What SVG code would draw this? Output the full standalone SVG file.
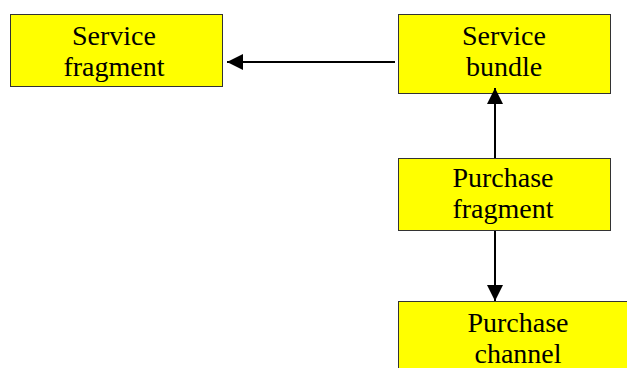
<svg xmlns="http://www.w3.org/2000/svg" width="627" height="368" viewBox="0 0 627 368">
<style>
.box{fill:#FFFF00;stroke:#333;stroke-width:1}
.t{font-family:"Liberation Serif","Times New Roman",serif;font-size:28px;fill:#000;text-anchor:middle}
.c{stroke:#000;stroke-width:2;fill:none}
</style>
<defs>
<marker id="ah" viewBox="0 0 16 16" refX="16" refY="8" markerWidth="16" markerHeight="16" markerUnits="userSpaceOnUse" orient="auto">
<path d="M0,0 L16,8 L0,16 Z" fill="#000"/>
</marker>
</defs>
<rect width="627" height="368" fill="#fff"/>
<g id="service-fragment">
<rect class="box" x="10.5" y="14.5" width="212" height="72"/>
<text class="t" x="114" y="44.5">Service</text>
<text class="t" x="114" y="75.5">fragment</text>
</g>
<g id="service-bundle">
<rect class="box" x="398.5" y="14.5" width="212" height="79"/>
<text class="t" x="504" y="44.5">Service</text>
<text class="t" x="504" y="76">bundle</text>
</g>
<g id="purchase-fragment">
<rect class="box" x="398.5" y="158.5" width="212" height="72"/>
<text class="t" x="503" y="187">Purchase</text>
<text class="t" x="503" y="217.5">fragment</text>
</g>
<g id="purchase-channel">
<rect class="box" x="398.5" y="301.5" width="240" height="80"/>
<text class="t" x="518" y="332">Purchase</text>
<text class="t" x="518" y="363">channel</text>
</g>
<g id="connectors">
<line class="c" x1="395" y1="62" x2="227" y2="62" marker-end="url(#ah)"/>
<line class="c" x1="495" y1="158" x2="495" y2="88" marker-end="url(#ah)"/>
<line class="c" x1="495" y1="231" x2="495" y2="301" marker-end="url(#ah)"/>
</g>
</svg>
